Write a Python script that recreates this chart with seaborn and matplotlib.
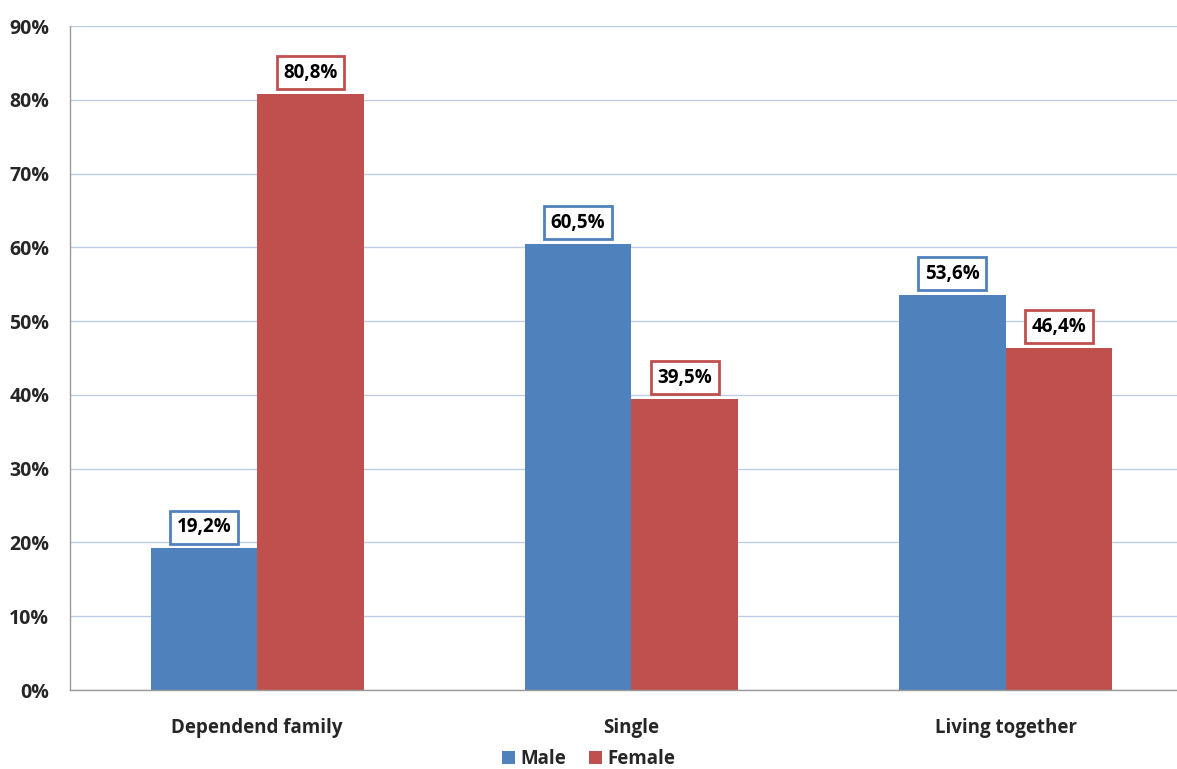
import matplotlib
matplotlib.use("Agg")
import matplotlib.pyplot as plt
import seaborn as sns
import pandas as pd
from matplotlib.ticker import FixedLocator, PercentFormatter

categories = ["Dependend family", "Single", "Living together"]
male = [19.2, 60.5, 53.6]
female = [80.8, 39.5, 46.4]
groups = ["Male", "Female"]
colors = {"Male": "#4F81BD", "Female": "#C0504D"}

df = pd.DataFrame({
    "category": categories * 2,
    "sex": ["Male"] * 3 + ["Female"] * 3,
    "value": male + female,
})

sns.set_style("white")
plt.rcParams["font.family"] = ["Open Sans", "DejaVu Sans"]
plt.rcParams["font.weight"] = "bold"

fig = plt.figure(figsize=(11.77, 7.69), dpi=100)
ax = fig.add_axes([0.0595, 0.1027, 0.954, 0.8633])

sns.barplot(data=df, x="category", y="value", hue="sex", hue_order=groups,
            palette=colors, width=0.57, gap=0, saturation=1, ax=ax,
            legend=True, errorbar=None, linewidth=0)

ax.set_xlim(-0.5, 2.5)
ax.set_ylim(0, 90)
ax.yaxis.set_major_locator(FixedLocator(range(0, 91, 10)))
ax.yaxis.set_major_formatter(PercentFormatter(decimals=0))
ax.grid(axis="y", color="#BDCDE6", linewidth=1)
ax.set_axisbelow(True)
ax.set_xlabel("")
ax.set_ylabel("")

for s in ["top", "right"]:
    ax.spines[s].set_visible(False)
for s in ["left", "bottom"]:
    ax.spines[s].set_color("#9A9A9A")
    ax.spines[s].set_linewidth(1)

ax.tick_params(axis="x", which="major", length=0, pad=20, labelsize=13.5)
ax.xaxis.set_minor_locator(FixedLocator([-0.5, 0.5, 1.5]))
ax.tick_params(axis="x", which="minor", length=6, color="#9A9A9A", direction="out")
ax.tick_params(axis="y", length=6, color="#9A9A9A", direction="out", labelsize=14, pad=9)
for lbl in ax.get_xticklabels() + ax.get_yticklabels():
    lbl.set_fontweight("bold")

for cont, grp in zip(ax.containers, groups):
    ax.bar_label(cont, labels=[f"{v:.1f}%".replace(".", ",") for v in cont.datavalues],
                 padding=8, fontsize=13.5, fontweight="bold", color="black",
                 bbox=dict(boxstyle="square,pad=0.35", facecolor="white",
                           edgecolor=colors[grp], linewidth=2))

leg = ax.legend(loc="lower center", bbox_to_anchor=(0.5, -0.022),
                bbox_transform=fig.transFigure, ncol=2, frameon=False,
                fontsize=13.5, handlelength=0.7, handleheight=0.7,
                handletextpad=0.3, columnspacing=1.2)
for t in leg.get_texts():
    t.set_fontweight("bold")

fig.savefig("out.png", dpi=100)
